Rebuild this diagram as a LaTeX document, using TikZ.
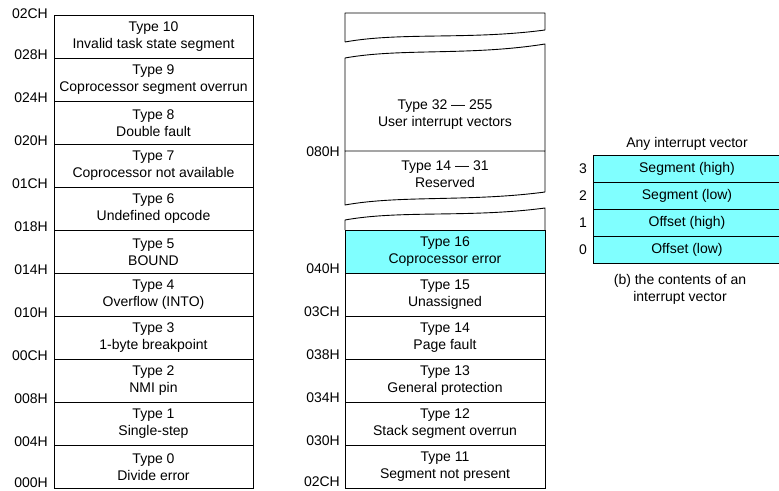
\documentclass[tikz,border=0pt]{standalone}
\usepackage{fontspec}
\setmainfont{Liberation Sans}
\usepackage{xcolor}
\usetikzlibrary{positioning}
\definecolor{vecfill}{RGB}{128,255,255}
\tikzset{
  cell/.style={draw, line width=0.9pt, outer sep=0pt, inner sep=0pt, minimum width=199pt, minimum height=43pt, align=center, font=\fontsize{14}{17}\selectfont},
  vcell/.style={cell, fill=vecfill, minimum width=188pt, minimum height=27pt},
  addr/.style={inner sep=0pt, font=\fontsize{14}{17}\selectfont},
  txt/.style={align=center, inner sep=0pt, font=\fontsize{14}{17}\selectfont},
  brk/.style={line width=0.9pt, line join=round},
}
\begin{document}
\begin{tikzpicture}[x=1pt, y=-1pt, node distance=0pt]
\useasboundingbox (0,0) rectangle (779,490);

% left column: types 0--10
\node[cell] (t10) at (153.5,37) {Type 10\\Invalid task state segment};
\node[cell, below=of t10] (t9) {Type 9\\Coprocessor segment overrun};
\node[cell, below=of t9] (t8) {Type 8\\Double fault};
\node[cell, below=of t8] (t7) {Type 7\\Coprocessor not available};
\node[cell, below=of t7] (t6) {Type 6\\Undefined opcode};
\node[cell, below=of t6] (t5) {Type 5\\BOUND};
\node[cell, below=of t5] (t4) {Type 4\\Overflow (INTO)};
\node[cell, below=of t4] (t3) {Type 3\\1-byte breakpoint};
\node[cell, below=of t3] (t2) {Type 2\\NMI pin};
\node[cell, below=of t2] (t1) {Type 1\\Single-step};
\node[cell, below=of t1] (t0) {Type 0\\Divide error};

\node[addr, left=6pt of t10.north west, yshift=2pt] (a02c) {02CH};
\node[addr, left=6pt of t10.south west, yshift=4pt] (a028) {028H};
\node[addr, left=6pt of t9.south west, yshift=4pt] (a024) {024H};
\node[addr, left=6pt of t8.south west, yshift=4pt] (a020) {020H};
\node[addr, left=6pt of t7.south west, yshift=4pt] (a01c) {01CH};
\node[addr, left=6pt of t6.south west, yshift=4pt] (a018) {018H};
\node[addr, left=6pt of t5.south west, yshift=4pt] (a014) {014H};
\node[addr, left=6pt of t4.south west, yshift=4pt] (a010) {010H};
\node[addr, left=6pt of t3.south west, yshift=4pt] (a00c) {00CH};
\node[addr, left=6pt of t2.south west, yshift=4pt] (a008) {008H};
\node[addr, left=6pt of t1.south west, yshift=4pt] (a004) {004H};
\node[addr, left=6pt of t0.south west, yshift=6pt] (a000) {000H};

% middle column: broken pieces
\draw[brk] (345,42) -- (345,13) -- (545,13) -- (545,30) .. controls (470,40) and (400,32) .. (345,42);
\draw[brk] (345,151) -- (345,58) .. controls (400,48) and (470,56) .. (545,44) -- (545,151);
\node[txt] (t32) at (445,115) {Type 32 — 255\\User interrupt vectors};
\draw[brk] (345,151) -- (545,151) -- (545,192) .. controls (470,202) and (400,195) .. (345,205) -- cycle;
\node[txt] (t14r) at (445,174) {Type 14 — 31\\Reserved};
\draw[brk] (345,230) -- (345,220) .. controls (400,210) and (470,218) .. (545,208) -- (545,230);
\coordinate (m080) at (345,151);

% middle column: types 11--16
\node[cell, fill=vecfill, minimum width=200pt] (t16) at (445,251.5) {Type 16\\Coprocessor error};
\node[cell, minimum width=200pt, below=of t16] (t15) {Type 15\\Unassigned};
\node[cell, minimum width=200pt, below=of t15] (t14) {Type 14\\Page fault};
\node[cell, minimum width=200pt, below=of t14] (t13) {Type 13\\General protection};
\node[cell, minimum width=200pt, below=of t13] (t12) {Type 12\\Stack segment overrun};
\node[cell, minimum width=200pt, below=of t12] (t11) {Type 11\\Segment not present};

\node[addr, left=5pt of m080, yshift=-1pt] (a080) {080H};
\node[addr, left=5pt of t16.south west, yshift=4pt] (a040) {040H};
\node[addr, left=5pt of t15.south west, yshift=4pt] (a03c) {03CH};
\node[addr, left=5pt of t14.south west, yshift=4pt] (a038) {038H};
\node[addr, left=5pt of t13.south west, yshift=4pt] (a034) {034H};
\node[addr, left=5pt of t12.south west, yshift=4pt] (a030) {030H};
\node[addr, left=5pt of t11.south west, yshift=6pt] (a02cb) {02CH};

% (b) one vector
\node[vcell] (v3) at (687,168.5) {Segment (high)};
\node[vcell, below=of v3] (v2) {Segment (low)};
\node[vcell, below=of v2] (v1) {Offset (high)};
\node[vcell, below=of v1] (v0) {Offset (low)};
\node[addr, left=6pt of v3] (i3) {3};
\node[addr, left=6pt of v2] (i2) {2};
\node[addr, left=6pt of v1] (i1) {1};
\node[addr, left=6pt of v0] (i0) {0};
\node[txt, above=4pt of v3] (anyvec) {Any interrupt vector};
\node[txt, below=11pt of v0, xshift=-7pt] (capb) {(b) the contents of an\\interrupt vector};
\end{tikzpicture}
\end{document}
